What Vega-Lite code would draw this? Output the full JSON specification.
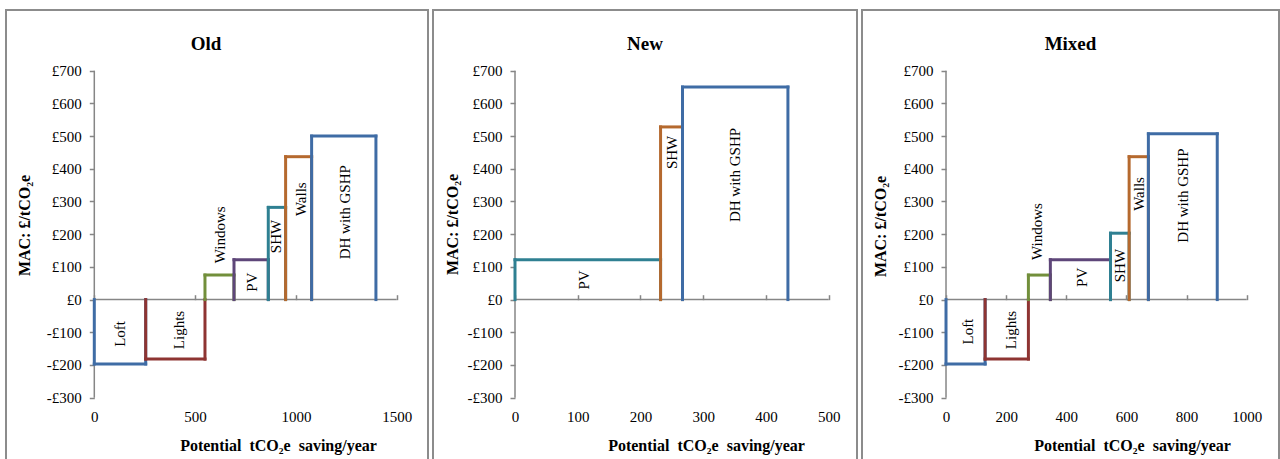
{
  "$schema": "https://vega.github.io/schema/vega-lite/v6.json",
  "padding": {"left": 5, "top": 9, "right": 0, "bottom": 0},
  "background": "white",
  "config": {
    "font": "Liberation Serif",
    "view": {"stroke": "#8C8C8C", "strokeWidth": 2},
    "axis": {"grid": false, "labelColor": "#000", "titleColor": "#000", "labelFont": "Liberation Serif", "titleFont": "Liberation Serif"},
    "text": {"font": "Liberation Serif"}
  },
  "datasets": {
    "old": [
      {"name": "Loft", "x0": 0, "x1": 255, "v": -197, "lx": 127, "ly": -105},
      {"name": "Lights", "x0": 255, "x1": 549, "v": -182, "lx": 420, "ly": -93},
      {"name": "Windows", "x0": 549, "x1": 693, "v": 75, "lx": 623, "ly": 198},
      {"name": "PV", "x0": 693, "x1": 863, "v": 122, "lx": 780, "ly": 53},
      {"name": "SHW", "x0": 863, "x1": 949, "v": 282, "lx": 901, "ly": 193},
      {"name": "Walls", "x0": 949, "x1": 1078, "v": 437, "lx": 1025, "ly": 307},
      {"name": "DH with GSHP", "x0": 1078, "x1": 1397, "v": 500, "lx": 1246, "ly": 267}
    ],
    "new": [
      {"name": "PV", "x0": 0, "x1": 232, "v": 122, "lx": 110, "ly": 60},
      {"name": "SHW", "x0": 232, "x1": 267, "v": 528, "lx": 250, "ly": 450},
      {"name": "DH with GSHP", "x0": 267, "x1": 435, "v": 650, "lx": 351, "ly": 381}
    ],
    "mixed": [
      {"name": "Loft", "x0": 0, "x1": 130, "v": -197, "lx": 74, "ly": -98},
      {"name": "Lights", "x0": 130, "x1": 274, "v": -182, "lx": 216, "ly": -93},
      {"name": "Windows", "x0": 274, "x1": 347, "v": 75, "lx": 301, "ly": 208},
      {"name": "PV", "x0": 347, "x1": 547, "v": 122, "lx": 451, "ly": 68},
      {"name": "SHW", "x0": 547, "x1": 609, "v": 203, "lx": 579, "ly": 104},
      {"name": "Walls", "x0": 609, "x1": 673, "v": 437, "lx": 643, "ly": 323},
      {"name": "DH with GSHP", "x0": 673, "x1": 902, "v": 507, "lx": 789, "ly": 318}
    ]
  },
  "spacing": 3,
  "resolve": {"scale": {"color": "independent", "x": "independent", "y": "independent"}},
  "hconcat": [
    {
      "width": 422, "height": 452,
      "title": {"text": "Old", "offset": -39, "dy": 20, "baseline": "alphabetic", "dx": -11, "fontSize": 19, "fontWeight": "bold", "color": "#000", "font": "Liberation Serif"},
      "data": {"name": "old"},
      "resolve": {"axis": {"x": "independent", "y": "independent"}},
      "layer": [
        {
          "data": {"values": [{}]},
          "mark": {"type": "rule", "color": "#868686", "strokeWidth": 1.5},
          "encoding": {
            "x": {"datum": 0, "type": "quantitative", "scale": {"domain": [-438, 1655.3], "nice": false, "zero": false},
              "axis": {"orient": "top", "offset": -289.7, "values": [0, 500, 1000, 1500], "domain": false, "labels": false, "ticks": true, "tickSize": 5, "tickWidth": 1.5, "tickColor": "#868686", "title": null, "grid": false}},
            "y": {"datum": -300, "type": "quantitative", "scale": {"domain": [-496.7, 885.6], "nice": false, "zero": false},
              "axis": {"orient": "left", "offset": -88.3, "values": [-300, -200, -100, 0, 100, 200, 300, 400, 500, 600, 700], "domain": false, "grid": false, "ticks": true, "tickSize": 5, "tickWidth": 1.5, "tickColor": "#868686", "labelPadding": 8, "labelFontSize": 15, "labelFlush": false, "labelOverlap": false, "labelExpr": "datum.value < 0 ? '-£' + (-datum.value) : '£' + datum.value", "title": "MAC: £/tCO₂e", "titleX": -70, "titleY": 215, "titleAngle": 270, "titleAlign": "center", "titleBaseline": "middle", "titleFontSize": 16, "titleFontWeight": "bold"}},
            "y2": {"datum": 700}
          }
        },
        {
          "data": {"values": [{}]},
          "mark": {"type": "rule", "color": "#868686", "strokeWidth": 1.5},
          "encoding": {
            "x": {"datum": 0, "type": "quantitative", "scale": {"domain": [-438, 1655.3], "nice": false, "zero": false},
              "axis": {"orient": "bottom", "offset": -55, "values": [0, 500, 1000, 1500], "format": "d", "domain": false, "ticks": false, "labelPadding": 2, "labelFontSize": 15, "labelFlush": false, "labelOverlap": false, "title": "Potential \u00a0tCO₂e \u00a0saving/year", "titleX": 272, "titleY": 43.7, "titleAlign": "center", "titleBaseline": "alphabetic", "titleFontSize": 16, "titleFontWeight": "bold"}},
            "x2": {"datum": 1500},
            "y": {"datum": 0, "type": "quantitative", "scale": {"domain": [-496.7, 885.6], "nice": false, "zero": false}, "axis": null}
          }
        },
        {
          "mark": {"type": "rule", "strokeWidth": 3, "strokeCap": "square"},
          "encoding": {
            "x": {"field": "x1", "type": "quantitative", "scale": {"domain": [-438, 1655.3], "nice": false, "zero": false}, "axis": null},
            "y": {"field": "v", "type": "quantitative", "scale": {"domain": [-496.7, 885.6], "nice": false, "zero": false}, "axis": null},
            "y2": {"datum": 0},
            "color": {"field": "name", "type": "nominal", "legend": null, "scale": {"domain": ["Loft", "Lights", "Windows", "PV", "SHW", "Walls", "DH with GSHP"], "range": ["#3F6CA5", "#8E3432", "#728F3B", "#5E4679", "#2F8092", "#B5692E", "#3F6CA5"]}}
          }
        },
        {
          "mark": {"type": "rule", "strokeWidth": 3, "strokeCap": "square"},
          "encoding": {
            "x": {"field": "x0", "type": "quantitative", "scale": {"domain": [-438, 1655.3], "nice": false, "zero": false}, "axis": null},
            "x2": {"field": "x1"},
            "y": {"field": "v", "type": "quantitative", "scale": {"domain": [-496.7, 885.6], "nice": false, "zero": false}, "axis": null},
            "color": {"field": "name", "type": "nominal", "legend": null, "scale": {"domain": ["Loft", "Lights", "Windows", "PV", "SHW", "Walls", "DH with GSHP"], "range": ["#3F6CA5", "#8E3432", "#728F3B", "#5E4679", "#2F8092", "#B5692E", "#3F6CA5"]}}
          }
        },
        {
          "mark": {"type": "rule", "strokeWidth": 3, "strokeCap": "square"},
          "encoding": {
            "x": {"field": "x0", "type": "quantitative", "scale": {"domain": [-438, 1655.3], "nice": false, "zero": false}, "axis": null},
            "y": {"field": "v", "type": "quantitative", "scale": {"domain": [-496.7, 885.6], "nice": false, "zero": false}, "axis": null},
            "y2": {"datum": 0},
            "color": {"field": "name", "type": "nominal", "legend": null, "scale": {"domain": ["Loft", "Lights", "Windows", "PV", "SHW", "Walls", "DH with GSHP"], "range": ["#3F6CA5", "#8E3432", "#728F3B", "#5E4679", "#2F8092", "#B5692E", "#3F6CA5"]}}
          }
        },
        {
          "mark": {"type": "text", "angle": 270, "align": "center", "baseline": "middle", "fontSize": 15, "color": "#000", "font": "Liberation Serif"},
          "encoding": {
            "x": {"field": "lx", "type": "quantitative", "scale": {"domain": [-438, 1655.3], "nice": false, "zero": false}, "axis": null},
            "y": {"field": "ly", "type": "quantitative", "scale": {"domain": [-496.7, 885.6], "nice": false, "zero": false}, "axis": null},
            "text": {"field": "name"}
          }
        }
      ]
    },
    {
      "width": 424, "height": 452,
      "title": {"text": "New", "offset": -39, "dy": 20, "baseline": "alphabetic", "dx": 0, "fontSize": 19, "fontWeight": "bold", "color": "#000", "font": "Liberation Serif"},
      "data": {"name": "new"},
      "resolve": {"axis": {"x": "independent", "y": "independent"}},
      "layer": [
        {
          "data": {"values": [{}]},
          "mark": {"type": "rule", "color": "#868686", "strokeWidth": 1.5},
          "encoding": {
            "x": {"datum": 0, "type": "quantitative", "scale": {"domain": [-130.7, 545.1], "nice": false, "zero": false},
              "axis": {"orient": "top", "offset": -289.7, "values": [0, 100, 200, 300, 400, 500], "domain": false, "labels": false, "ticks": true, "tickSize": 5, "tickWidth": 1.5, "tickColor": "#868686", "title": null, "grid": false}},
            "y": {"datum": -300, "type": "quantitative", "scale": {"domain": [-496.7, 885.6], "nice": false, "zero": false},
              "axis": {"orient": "left", "offset": -82, "values": [-300, -200, -100, 0, 100, 200, 300, 400, 500, 600, 700], "domain": false, "grid": false, "ticks": true, "tickSize": 5, "tickWidth": 1.5, "tickColor": "#868686", "labelPadding": 8, "labelFontSize": 15, "labelFlush": false, "labelOverlap": false, "labelExpr": "datum.value < 0 ? '-£' + (-datum.value) : '£' + datum.value", "title": "MAC: £/tCO₂e", "titleX": -63, "titleY": 214, "titleAngle": 270, "titleAlign": "center", "titleBaseline": "middle", "titleFontSize": 16, "titleFontWeight": "bold"}},
            "y2": {"datum": 700}
          }
        },
        {
          "data": {"values": [{}]},
          "mark": {"type": "rule", "color": "#868686", "strokeWidth": 1.5},
          "encoding": {
            "x": {"datum": 0, "type": "quantitative", "scale": {"domain": [-130.7, 545.1], "nice": false, "zero": false},
              "axis": {"orient": "bottom", "offset": -55, "values": [0, 100, 200, 300, 400, 500], "format": "d", "domain": false, "ticks": false, "labelPadding": 2, "labelFontSize": 15, "labelFlush": false, "labelOverlap": false, "title": "Potential \u00a0tCO₂e \u00a0saving/year", "titleX": 273, "titleY": 43.7, "titleAlign": "center", "titleBaseline": "alphabetic", "titleFontSize": 16, "titleFontWeight": "bold"}},
            "x2": {"datum": 500},
            "y": {"datum": 0, "type": "quantitative", "scale": {"domain": [-496.7, 885.6], "nice": false, "zero": false}, "axis": null}
          }
        },
        {
          "mark": {"type": "rule", "strokeWidth": 3, "strokeCap": "square"},
          "encoding": {
            "x": {"field": "x1", "type": "quantitative", "scale": {"domain": [-130.7, 545.1], "nice": false, "zero": false}, "axis": null},
            "y": {"field": "v", "type": "quantitative", "scale": {"domain": [-496.7, 885.6], "nice": false, "zero": false}, "axis": null},
            "y2": {"datum": 0},
            "color": {"field": "name", "type": "nominal", "legend": null, "scale": {"domain": ["PV", "SHW", "DH with GSHP"], "range": ["#2F8092", "#B5692E", "#3F6CA5"]}}
          }
        },
        {
          "mark": {"type": "rule", "strokeWidth": 3, "strokeCap": "square"},
          "encoding": {
            "x": {"field": "x0", "type": "quantitative", "scale": {"domain": [-130.7, 545.1], "nice": false, "zero": false}, "axis": null},
            "x2": {"field": "x1"},
            "y": {"field": "v", "type": "quantitative", "scale": {"domain": [-496.7, 885.6], "nice": false, "zero": false}, "axis": null},
            "color": {"field": "name", "type": "nominal", "legend": null, "scale": {"domain": ["PV", "SHW", "DH with GSHP"], "range": ["#2F8092", "#B5692E", "#3F6CA5"]}}
          }
        },
        {
          "mark": {"type": "rule", "strokeWidth": 3, "strokeCap": "square"},
          "encoding": {
            "x": {"field": "x0", "type": "quantitative", "scale": {"domain": [-130.7, 545.1], "nice": false, "zero": false}, "axis": null},
            "y": {"field": "v", "type": "quantitative", "scale": {"domain": [-496.7, 885.6], "nice": false, "zero": false}, "axis": null},
            "y2": {"datum": 0},
            "color": {"field": "name", "type": "nominal", "legend": null, "scale": {"domain": ["PV", "SHW", "DH with GSHP"], "range": ["#2F8092", "#B5692E", "#3F6CA5"]}}
          }
        },
        {
          "mark": {"type": "text", "angle": 270, "align": "center", "baseline": "middle", "fontSize": 15, "color": "#000", "font": "Liberation Serif"},
          "encoding": {
            "x": {"field": "lx", "type": "quantitative", "scale": {"domain": [-130.7, 545.1], "nice": false, "zero": false}, "axis": null},
            "y": {"field": "ly", "type": "quantitative", "scale": {"domain": [-496.7, 885.6], "nice": false, "zero": false}, "axis": null},
            "text": {"field": "name"}
          }
        }
      ]
    },
    {
      "width": 417, "height": 452,
      "title": {"text": "Mixed", "offset": -39, "dy": 20, "baseline": "alphabetic", "dx": 0, "fontSize": 19, "fontWeight": "bold", "color": "#000", "font": "Liberation Serif"},
      "data": {"name": "mixed"},
      "resolve": {"axis": {"x": "independent", "y": "independent"}},
      "layer": [
        {
          "data": {"values": [{}]},
          "mark": {"type": "rule", "color": "#868686", "strokeWidth": 1.5},
          "encoding": {
            "x": {"datum": 0, "type": "quantitative", "scale": {"domain": [-279.4, 1107.4], "nice": false, "zero": false},
              "axis": {"orient": "top", "offset": -289.7, "values": [0, 200, 400, 600, 800, 1000], "domain": false, "labels": false, "ticks": true, "tickSize": 5, "tickWidth": 1.5, "tickColor": "#868686", "title": null, "grid": false}},
            "y": {"datum": -300, "type": "quantitative", "scale": {"domain": [-496.7, 885.6], "nice": false, "zero": false},
              "axis": {"orient": "left", "offset": -84, "values": [-300, -200, -100, 0, 100, 200, 300, 400, 500, 600, 700], "domain": false, "grid": false, "ticks": true, "tickSize": 5, "tickWidth": 1.5, "tickColor": "#868686", "labelPadding": 8, "labelFontSize": 15, "labelFlush": false, "labelOverlap": false, "labelExpr": "datum.value < 0 ? '-£' + (-datum.value) : '£' + datum.value", "title": "MAC: £/tCO₂e", "titleX": -65.5, "titleY": 216, "titleAngle": 270, "titleAlign": "center", "titleBaseline": "middle", "titleFontSize": 16, "titleFontWeight": "bold"}},
            "y2": {"datum": 700}
          }
        },
        {
          "data": {"values": [{}]},
          "mark": {"type": "rule", "color": "#868686", "strokeWidth": 1.5},
          "encoding": {
            "x": {"datum": 0, "type": "quantitative", "scale": {"domain": [-279.4, 1107.4], "nice": false, "zero": false},
              "axis": {"orient": "bottom", "offset": -55, "values": [0, 200, 400, 600, 800, 1000], "format": "d", "domain": false, "ticks": false, "labelPadding": 2, "labelFontSize": 15, "labelFlush": false, "labelOverlap": false, "title": "Potential \u00a0tCO₂e \u00a0saving/year", "titleX": 270, "titleY": 43.7, "titleAlign": "center", "titleBaseline": "alphabetic", "titleFontSize": 16, "titleFontWeight": "bold"}},
            "x2": {"datum": 1000},
            "y": {"datum": 0, "type": "quantitative", "scale": {"domain": [-496.7, 885.6], "nice": false, "zero": false}, "axis": null}
          }
        },
        {
          "mark": {"type": "rule", "strokeWidth": 3, "strokeCap": "square"},
          "encoding": {
            "x": {"field": "x1", "type": "quantitative", "scale": {"domain": [-279.4, 1107.4], "nice": false, "zero": false}, "axis": null},
            "y": {"field": "v", "type": "quantitative", "scale": {"domain": [-496.7, 885.6], "nice": false, "zero": false}, "axis": null},
            "y2": {"datum": 0},
            "color": {"field": "name", "type": "nominal", "legend": null, "scale": {"domain": ["Loft", "Lights", "Windows", "PV", "SHW", "Walls", "DH with GSHP"], "range": ["#3F6CA5", "#8E3432", "#728F3B", "#5E4679", "#2F8092", "#B5692E", "#3F6CA5"]}}
          }
        },
        {
          "mark": {"type": "rule", "strokeWidth": 3, "strokeCap": "square"},
          "encoding": {
            "x": {"field": "x0", "type": "quantitative", "scale": {"domain": [-279.4, 1107.4], "nice": false, "zero": false}, "axis": null},
            "x2": {"field": "x1"},
            "y": {"field": "v", "type": "quantitative", "scale": {"domain": [-496.7, 885.6], "nice": false, "zero": false}, "axis": null},
            "color": {"field": "name", "type": "nominal", "legend": null, "scale": {"domain": ["Loft", "Lights", "Windows", "PV", "SHW", "Walls", "DH with GSHP"], "range": ["#3F6CA5", "#8E3432", "#728F3B", "#5E4679", "#2F8092", "#B5692E", "#3F6CA5"]}}
          }
        },
        {
          "mark": {"type": "rule", "strokeWidth": 3, "strokeCap": "square"},
          "encoding": {
            "x": {"field": "x0", "type": "quantitative", "scale": {"domain": [-279.4, 1107.4], "nice": false, "zero": false}, "axis": null},
            "y": {"field": "v", "type": "quantitative", "scale": {"domain": [-496.7, 885.6], "nice": false, "zero": false}, "axis": null},
            "y2": {"datum": 0},
            "color": {"field": "name", "type": "nominal", "legend": null, "scale": {"domain": ["Loft", "Lights", "Windows", "PV", "SHW", "Walls", "DH with GSHP"], "range": ["#3F6CA5", "#8E3432", "#728F3B", "#5E4679", "#2F8092", "#B5692E", "#3F6CA5"]}}
          }
        },
        {
          "mark": {"type": "text", "angle": 270, "align": "center", "baseline": "middle", "fontSize": 15, "color": "#000", "font": "Liberation Serif"},
          "encoding": {
            "x": {"field": "lx", "type": "quantitative", "scale": {"domain": [-279.4, 1107.4], "nice": false, "zero": false}, "axis": null},
            "y": {"field": "ly", "type": "quantitative", "scale": {"domain": [-496.7, 885.6], "nice": false, "zero": false}, "axis": null},
            "text": {"field": "name"}
          }
        }
      ]
    }
  ]
}
